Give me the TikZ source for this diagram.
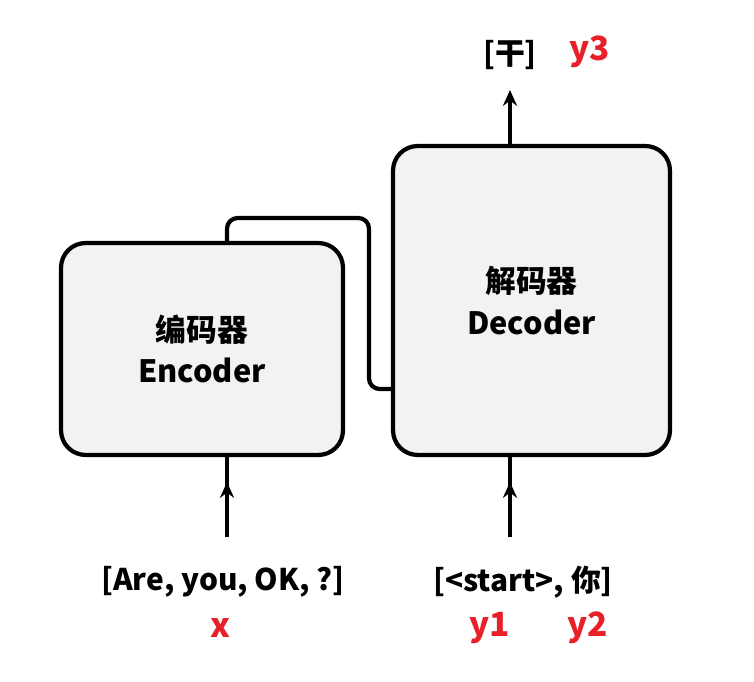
\documentclass[tikz,border=0pt]{standalone}
\usepackage{fontspec}
\setmainfont{Noto Sans CJK SC}
\usetikzlibrary{arrows.meta}
\definecolor{boxgray}{HTML}{F2F2F2}
\definecolor{lblred}{HTML}{E8202A}
\tikzset{
  block/.style={draw=black, fill=boxgray, line width=2.4pt, rounded corners=14pt,
    align=center, font=\bfseries\fontsize{17.5}{23.5}\selectfont},
  link/.style={line width=2.4pt, rounded corners=6pt},
  arr/.style={line width=2.4pt, -{Stealth[length=9pt,width=8pt]}},
  txt/.style={font=\bfseries\fontsize{17}{20}\selectfont, inner sep=0pt},
  red/.style={text=lblred, font=\bfseries\fontsize{19}{21}\selectfont, inner sep=0pt}
}
\begin{document}
\begin{tikzpicture}[x=0.02cm, y=-0.02cm]
      \useasboundingbox[fill=white] (0,0) rectangle (754,682) ;
      % boxes
      \node[block, minimum width=5.64cm, minimum height=4.24cm] %
      (enc) at (202,349) {编码器\\Encoder} ;
      \node[block, minimum width=5.54cm, minimum height=6.18cm] %
      (dec) at (531.5,300.5) {解码器\\Decoder} ;
      % texts
      \node[txt] (xin) at (223,582) {[Are, you, OK, ?]} ;
      \node[txt] (yin) at (523,582) {[<start>, 你]} ;
      \node[txt] (yout) at (510,55) {[干]} ;
      \node[red] (x) at (220,628) {x} ;
      \node[red] (y1) at (490,628) {y1} ;
      \node[red] (y2) at (588,628) {y2} ;
      \node[red] (y3) at (590,52) {y3} ;
      % connectors
      \coordinate (ea) at (227,537) ;
      \coordinate (da) at (510,537) ;
      \draw[arr] (ea) -- ++(0,-55) ;
      \draw[line width=2.4pt] (ea) -- (enc.south -| ea) ;
      \draw[arr] (da) -- ++(0,-55) ;
      \draw[line width=2.4pt] (da) -- (dec.south -| da) ;
      \draw[arr] (dec.north -| da) -- (510,90) ;
      \draw[link] (enc.north -| ea) |- (369,218) |- (dec.west |- 0,389) ;
    \end{tikzpicture}
\end{document}
